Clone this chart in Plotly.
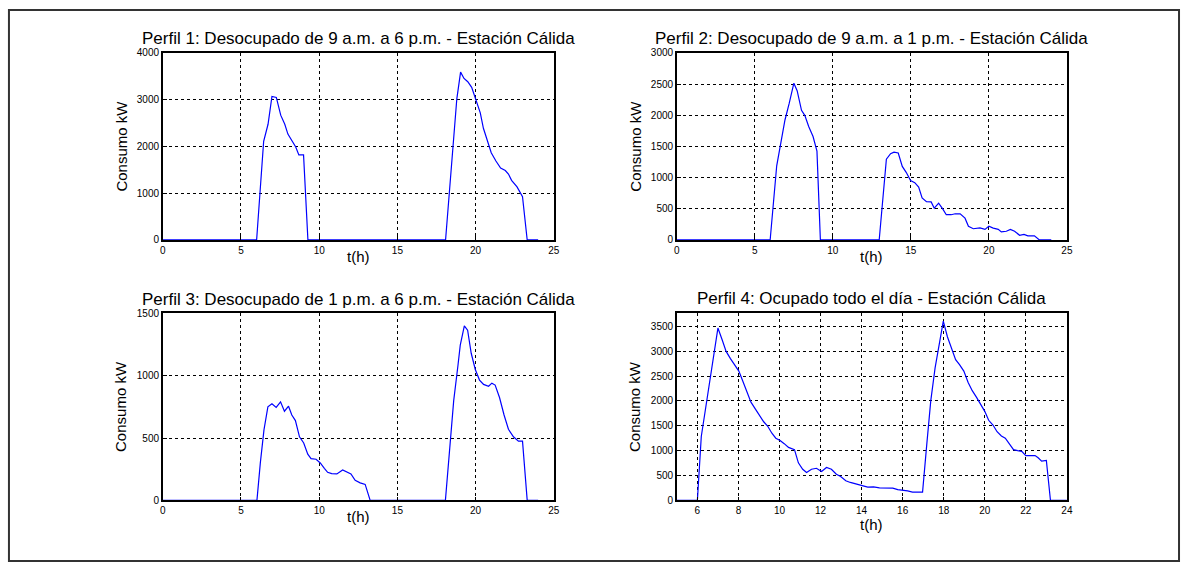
import plotly.graph_objects as go

# ---------------- data ----------------
t1 = [0, 6.0, 6.45, 6.73, 6.98, 7.26, 7.54, 7.8, 8.0, 8.28, 8.5, 8.7, 9.0, 9.28,
      18.08, 18.8, 19.04, 19.26, 19.5, 19.75, 20.0, 20.3, 20.5, 20.75, 21.0, 21.3,
      21.6, 21.9, 22.1, 22.3, 22.65, 23.0, 23.3, 24.0]
p1 = [0, 0, 2110, 2475, 3070, 3050, 2670, 2475, 2265, 2100, 1990, 1820, 1820, 0,
      0, 3020, 3590, 3455, 3385, 3265, 3020, 2720, 2390, 2110, 1865, 1690,
      1540, 1485, 1410, 1275, 1135, 925, 0, 0]

t2 = [0, 5.98, 6.4, 6.67, 6.93, 7.2, 7.5, 7.71, 7.99, 8.2, 8.45, 8.73, 8.98, 9.2,
      12.97, 13.43, 13.7, 13.92, 14.19, 14.45, 14.7, 14.98, 15.25, 15.5, 15.72, 16.0,
      16.3, 16.5, 16.78, 17.05, 17.27, 17.58, 17.84, 18.16, 18.47, 18.69, 19.0, 19.43,
      19.75, 20.0, 20.28, 20.6, 20.8, 21.12, 21.38, 21.65, 21.97, 22.25, 22.5, 22.92,
      23.24, 24.0]
p2 = [0, 0, 1190, 1585, 1925, 2190, 2515, 2395, 2080, 2000, 1820, 1660, 1425, 0,
      0, 1295, 1385, 1410, 1395, 1180, 1085, 955, 920, 850, 675, 615,
      610, 510, 590, 495, 405, 405, 420, 420, 350, 220, 180, 195,
      170, 220, 190, 170, 130, 140, 170, 140, 75, 90, 65, 65,
      0, 0]

t3 = [0, 6.02, 6.24, 6.47, 6.72, 6.98, 7.25, 7.53, 7.78, 8.04, 8.25, 8.48, 8.74, 9.01,
      9.27, 9.48, 9.8, 10.07, 10.33, 10.54, 10.8, 11.13, 11.5, 11.75, 12.03, 12.3,
      12.62, 12.94, 13.26, 18.07, 18.35, 18.6, 18.88, 19.02, 19.28, 19.49, 19.72, 19.98,
      20.25, 20.51, 20.83, 21.04, 21.25, 21.53, 21.82, 22.1, 22.42, 22.74, 23.0, 23.3, 24.0]
p3 = [0, 0, 305, 565, 750, 775, 745, 790, 715, 755, 685, 640, 510, 460,
      370, 335, 330, 300, 257, 225, 215, 212, 243, 230, 212, 160,
      140, 128, 0, 0, 435, 800, 1090, 1245, 1400, 1365, 1180, 1050,
      965, 930, 915, 940, 925, 825, 685, 570, 510, 475, 475, 0, 0]

t4 = [5.0, 6.0, 6.19, 6.4, 6.61, 6.81, 7.0, 7.21, 7.4, 7.61, 7.81, 8.02, 8.21, 8.42,
      8.61, 8.82, 9.02, 9.23, 9.42, 9.63, 9.82, 10.03, 10.23, 10.44, 10.73, 10.92,
      11.13, 11.32, 11.56, 11.8, 12.05, 12.29, 12.53, 12.77, 12.98, 13.23, 13.45, 13.74,
      14.03, 14.3, 14.58, 14.87, 15.19, 15.52, 15.76, 16.0, 16.24, 16.48, 16.97, 17.18,
      17.37, 17.58, 17.77, 17.98, 18.18, 18.39, 18.58, 18.77, 18.98, 19.19, 19.39, 19.6,
      19.79, 20.0, 20.19, 20.4, 20.6, 20.81, 21.0, 21.21, 21.4, 21.6, 21.8, 22.0,
      22.2, 22.45, 22.6, 22.77, 23.0, 23.2, 24.0]
p4 = [0, 0, 1285, 1875, 2465, 2995, 3465, 3225, 2995, 2850, 2730, 2600, 2400, 2190,
      1975, 1840, 1710, 1580, 1495, 1350, 1250, 1205, 1140, 1065, 1020, 755,
      625, 560, 625, 645, 580, 660, 625, 525, 480, 395, 360, 335,
      295, 265, 270, 250, 250, 245, 215, 210, 190, 165, 165, 1150,
      2005, 2665, 3125, 3605, 3290, 3060, 2830, 2730, 2600, 2370, 2205, 2070,
      1940, 1790, 1610, 1515, 1380, 1295, 1250, 1120, 1020, 1000, 985, 900,
      900, 900, 855, 790, 805, 0, 0]

titles = [
    "Perfil 1: Desocupado de 9 a.m. a 6 p.m. - Estación Cálida",
    "Perfil 2: Desocupado de 9 a.m. a 1 p.m. - Estación Cálida",
    "Perfil 3: Desocupado de 1 p.m. a 6 p.m. - Estación Cálida",
    "Perfil 4: Ocupado todo el día - Estación Cálida",
]
series = [(t1, p1), (t2, p2), (t3, p3), (t4, p4)]

W, H = 1188, 569
FONT = "Liberation Sans, Arial, sans-serif"

# pixel boxes (left, top, right, bottom)
boxes = [(161, 48, 555, 239), (679, 48, 1072, 239),
         (161, 314, 555, 505), (679, 314, 1072, 505)]
title_y = [33, 33, 300, 299]
xlab_off = [17, 17, 17, 25]
xranges = [[0, 25], [0, 25], [0, 25], [5, 24]]
xdticks = [5, 5, 5, 2]
yranges = [[0, 4000], [0, 3000], [0, 1500], [0, 3760]]
ydticks = [1000, 500, 500, 500]

fig = go.Figure()
annotations = []
for i, ((t, p), box) in enumerate(zip(series, boxes)):
    n = "" if i == 0 else str(i + 1)
    fig.add_trace(go.Scatter(x=t, y=p, mode="lines",
                             line=dict(color="#0000FF", width=1.2),
                             xaxis="x" + n, yaxis="y" + n, showlegend=False,
                             hoverinfo="x+y"))
    l, tp, r, b = box
    common = dict(showline=True, linecolor="black", linewidth=1.5, mirror=True,
                  showgrid=True, gridcolor="black", griddash="dot", gridwidth=1,
                  zeroline=False, ticks="inside", ticklen=4, tickcolor="black",
                  tickfont=dict(family=FONT, size=10, color="black"))
    fig.layout["xaxis" + n] = dict(domain=[l / W, r / W], anchor="y" + n,
                                   range=xranges[i], dtick=xdticks[i], tick0=0,
                                   **common)
    fig.layout["yaxis" + n] = dict(domain=[1 - b / H, 1 - tp / H], anchor="x" + n,
                                   range=yranges[i], dtick=ydticks[i], tick0=0,
                                   **common)
    cx = (l + r) / 2
    annotations.append(dict(text=titles[i], x=cx / W, y=1 - title_y[i] / H,
                            xref="paper", yref="paper", xanchor="center",
                            yanchor="middle", showarrow=False,
                            font=dict(family=FONT, size=17, color="black")))
    annotations.append(dict(text="t(h)", x=cx / W, y=1 - (b + xlab_off[i]) / H,
                            xref="paper", yref="paper", xanchor="center",
                            yanchor="middle", showarrow=False,
                            font=dict(family=FONT, size=15, color="black")))
    annotations.append(dict(text="Consumo kW", x=(l - 42) / W, y=1 - ((tp + b) / 2) / H,
                            xref="paper", yref="paper", xanchor="center",
                            yanchor="middle", textangle=-90, showarrow=False,
                            font=dict(family=FONT, size=15, color="black")))

fig.update_layout(
    width=W, height=H, margin=dict(l=0, r=0, t=0, b=0),
    paper_bgcolor="white", plot_bgcolor="white",
    annotations=annotations,
    shapes=[dict(type="rect", xref="paper", yref="paper",
                 x0=6 / W, x1=1185 / W, y0=1 - 567 / H, y1=1 - 4 / H,
                 line=dict(color="#333333", width=2))],
)

fig.write_html("out.html")
